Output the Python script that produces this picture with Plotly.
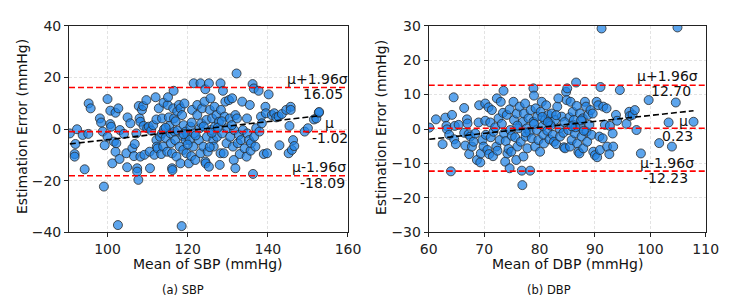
import plotly.graph_objects as go

# ---------------- SBP panel data ----------------
sbp_mean = [90.6, 92, 91.8, 91.8, 92.4, 93.8, 94.3, 95.2, 95.3, 95.8, 98.1, 98.4, 98.8, 99.3, 99.1, 100, 100,
            100.7, 100.7, 100.9, 101.2, 101.6, 102, 102, 102.2, 102.6, 102.7, 103, 103.1, 104.1, 104.7, 105, 104.9,
            105.7, 106.2, 106.6, 106.8, 107.2, 107.4, 107.4, 107.7, 107.8, 108, 108.2, 108.2, 108.6, 108.9, 109,
            109.2, 109.7, 109.9,
            110.3, 110.5, 110.6, 110.9, 111.4, 111.7, 112, 112.2, 112.2, 112.3, 112.5, 112.8, 113.1, 113.4, 113.6,
            113.6, 113.9, 114, 114.1, 114.5, 114.9, 115, 115.1, 115.3, 115.4, 115.7, 115.8, 116.1, 116.1, 116.2,
            116.4, 116.5, 116.6, 116.7, 116.9, 117.2, 117.4, 117.5, 117.8, 118, 118.2, 118.2, 118.5, 118.6, 118.7,
            118.9, 119, 119.2, 119.5, 119.5, 119.7, 119.9,
            120.3, 120.5, 120.7, 120.9, 121.1, 121.4, 121.5, 121.6, 121.9, 122.4, 122.4, 122.8, 123, 123.2, 123.2,
            123.4, 123.6, 123.9, 124.2, 124.4, 124.4, 124.5, 124.7, 124.8, 125, 125.3, 125.3, 125.5, 125.7, 125.8,
            126.1, 126.4, 126.5, 126.7, 126.8, 127.2, 127.3, 127.8, 128, 128.2, 128.2, 128.3, 128.6, 128.8, 129,
            129.2, 129.4, 129.7, 129.9,
            130.3, 130.5, 130.6, 131.1, 131.3, 131.5, 131.6, 131.9, 131.9, 132.2, 132.3, 132.5, 132.8, 133, 133.3,
            133.6, 133.8, 134.2, 134.7, 134.8, 134.9, 135.3, 135.5, 135.7, 135.8, 136.2, 136.3, 136.5, 136.6, 136.9,
            137.1, 137.7, 137.9, 138.3, 138.5, 139, 139.4, 139.5, 139.8, 140.2,
            141, 141.6, 142.1, 142.7, 142.9, 143.5, 144.6, 145.2, 145.4, 145.7, 145.7, 146, 146.3, 146.6, 149.2,
            150, 151.5, 152.1, 152.7, 152.8,
            119.0, 121.0, 122.0, 124.0, 126.0, 127.5, 117.0, 114.5, 120.0, 125.5, 128.5, 131.0]
sbp_error = [-1.7, -5.8, -9.7, -10.7, -0.1, -2.3, -15.6, -1.9, 9.9, 8, 4.1, 2.5, -1, -6.3, -22.3, 11.6, -3,
             7.1, 1.9, 0.9, -13.3, -4.9, 6.3, -8.8, -5.5, -37.2, 8, -11.6, -0.4, -1.9, -9.4, 4.5, -14.8,
             2.2, -7.5, -10.5, -5.8, -1.7, -15.2, -16.5, -19.7, 8.9, 4.1, -10.7, 2.8, 7.4, 8.9, 1.2,
             -10, 11.2, 0.3,
             0.9, -8.8, -15.2, -0.6, 1.5, -10, 12.3, 3.7, -4.3, -6.8, -7.5, 8, -3, -9.7, 4.1,
             -1.7, -6.8, 10.2, -0.1, -3.4, -8.8, 9.3, 12.3, 4.5, 1.2, -1.7, -5.5, -9.4, -15.2, -15.9,
             8, 14.8, 4.1, -1, -4.3, -10.7, 6.8, -0.6, 9.3, -6.8, 8, -13.3, -37.6, 5.4, -2.7,
             -8.1, 1.5, 9.9, -4.3, -1, -9.4, -1.9,
             -13.3, -4.3, 0.9, -10.5, 7.4, -6.8, 17.7, -1.7, -12, 5.4, 9.3, -4.3, 0.3, 17.7, -9.4,
             2.2, 8, -6.8, 10.6, 15.4, -12.6, -13.3, 3.5, -3, -8.8, 17.7, -14.6, 7.4, 11.9, -0.4,
             4.1, -4.3, -6.8, 8.6, 0.9, 5.4, -3, 2.8, -13.9, 17.7, -9.4, 7.4, -1.7, 14.8, -9.4,
             4.8, 10.6, -5.5, 0.3,
             11.2, 4.1, -3, 11.9, -6.8, -12, -0.4, 5.4, -15.2, 21.5, 4.1, -5.5, -2.3, -9.7, -4.3,
             10.6, -0.4, -7.5, -10.7, 4.1, -1.7, -4.3, 9.3, -8.4, -5.5, 17.4, -17.4, 15.7, -3, -6.8,
             0.3, 14.8, -1, 4.8, 2.2, -9.7, 8.6, 6.1, -9.4, 13.4,
             5.4, 6.1, 4.5, 4.8, -6.3, 5.8, 7.4, -9.4, 1.2, 8.6, 7.4, -8.1, -4.3, -6.6, -1,
             0.3, 3.7, 4.1, 6.3, 6.6,
             -2.0, 2.5, -2.5, 1.0, -1.5, 0.5, 3.0, 0.5, -6.0, -7.0, 3.0, 1.5]

# ---------------- DBP panel data ----------------
dbp_mean = [60.1, 61.3, 62.5, 63, 63.2, 63.3, 63.7, 64, 64.2, 64.5, 64.6, 64.7, 64.9, 65.4, 66.4, 66.4, 66.6,
            66.9, 67, 67.2, 67.3, 67.5, 67.8, 68.1, 68.4, 68.7, 69, 69.1, 69.3, 69.4, 69.7, 69.9,
            70.2, 70.2, 70.3, 70.6, 70.8, 70.9, 71.1, 71.2, 71.4, 71.6, 71.7, 72, 72.2, 72.3, 72.4, 72.6, 72.8,
            73, 73.2, 73.4, 73.5, 73.6, 73.8, 73.9, 74.1, 74.2, 74.4, 74.6, 74.6, 74.7, 74.9, 75, 75.3, 75.4,
            75.6, 75.8, 75.9, 76, 76.2, 76.4, 76.6, 76.8, 76.9, 77, 77.1, 77.2, 77.4, 77.5, 77.7, 77.8, 78,
            78.2, 78.3, 78.4, 78.6, 78.9, 78.9, 79, 79.2, 79.3, 79.5, 79.6, 79.8,
            80.1, 80.2, 80.4, 80.6, 80.7, 80.8, 81, 81.2, 81.4, 81.6, 81.8, 81.9, 82.2, 82.4, 82.6, 82.8, 83,
            83.2, 83.4, 83.6, 83.7, 84, 84.3, 84.4, 84.6, 84.8, 84.9, 85, 85.2, 85.4, 85.5, 85.6, 85.8, 86,
            86.1, 86.2, 86.4, 86.6, 86.7, 86.8, 87, 87.2, 87.3, 87.4, 87.6, 87.8, 87.9, 88.2, 88.4, 88.5,
            88.6, 88.8, 89, 89.2, 89.4, 89.6, 89.7,
            90, 90.3, 90.4, 90.6, 90.8, 90.9, 91, 91.2, 91.4, 91.5, 91.8, 92.1, 92.2, 92.6, 92.7, 93.2, 93.3,
            93.8, 94, 94.5, 95.7, 96.2, 96.3, 96.8, 97.2, 97.5, 98.3, 99.7, 101.6, 103.3, 103.9, 104.6, 104.9,
            107.8,
            80.5, 82.0, 83.0, 84.5, 86.5, 87.5, 88.0, 79.0, 81.5, 85.8, 77.5, 76.0]
dbp_error = [0.4, 2.8, -4.4, 3.3, 0.9, -0.1, -1.7, -12.3, 4.1, 9.2, -3, 0.9, -4.4, 1.2, 6.1, -1.1, -4.8,
             2.8, 1.6, -1.5, -7.3, -2.2, -5.1, -3.7, -1.3, -9, 1.9, 6.9, -9.7, -7.1, -3.2, -5.1,
             7.4, 2.4, -1.7, -6.1, 6.3, -7.3, 1.9, -2.4, 5.5, -7.9, -0.8, 0.5, -5.1, 8.9, -6.3, 3.1, -3.2,
             7.9, 1.5, 4.7, 11.1, -1.3, -9.5, -3.5, 4.1, -7.1, -5.8, -11.4, 5.7, -0.3, -6.6, -2, 7.9, 2.6,
             -2.4, -9, 4.5, -5.1, 0.2, 6.5, -3.7, -12.1, -16.3, 2.1, -8, 4.5, 7.4, -2.2, 0.2, -5.6, 3.1,
             -0.8, -12.1, 5.5, -2.7, 11.8, 2.1, 9.7, -5.1, 6, -0.3, 3.6, -3.2,
             -6.6, 5, 7.9, 0.9, -1.7, -4.2, 2.6, 6.9, -0.5, 4.1, -3, 1.6, 4.5, -1.7, -3.7, 2.6, -4.4,
             6.5, 8.9, 0.2, -2.2, 3.6, -1.1, -5.3, -5.6, 10.8, 8.4, 11.8, -0.3, 3.4, -5.1, 7.9, -3.2, 5,
             1.2, 2.6, -1.3, 13.5, 6.7, -4.2, -6.6, -7.1, 4.5, 0.7, -2.2, 3.1, -5.6, 7.9, 6.5, -0.8,
             -3.7, 4.1, 1.2, 5.5, -1.7, 4.5, -6.6,
             -7.6, 7.9, -8.2, 6.9, -2.2, -6.1, 12.2, 29.2, -2.7, 6.5, 1.2, 6, -5.1, -7.3, 0.9, -1.3, -5.1,
             4.1, 2.4, 11.3, 1.5, 5, 3.8, 4.1, 5.5, -0.3, -7.1, 8.4, -4.1, 1.9, -5.1, 7.7, 29.5,
             2.1,
             3.5, 1.0, 4.0, 2.0, 0.5, 2.5, -0.5, 1.5, 2.0, 0.8, -1.0, 1.0]

# ---------------- statistics (from the figure) ----------------
sbp_mu, sbp_upper, sbp_lower = -1.02, 16.05, -18.09
dbp_mu, dbp_upper, dbp_lower = 0.23, 12.70, -12.23
sbp_slope, sbp_intercept = 0.1745, -21.57
dbp_slope, dbp_intercept = 0.1736, -13.42

sbp_xticks = [100, 120, 140, 160]
sbp_yticks = [-40, -20, 0, 20, 40]
dbp_xticks = [60, 70, 80, 90, 100, 110]
dbp_yticks = [-30, -20, -10, 0, 10, 20, 30]

FONT = "DejaVu Sans"
marker = dict(size=9, color="rgba(30,130,230,0.72)", line=dict(color="#2a2a2a", width=0.8))

fig = go.Figure()

def panel(xs, ys, mu, up, lo, slope, icpt, xa, ya, xr):
    fig.add_trace(go.Scatter(x=xs, y=ys, mode="markers", marker=marker, xaxis=xa, yaxis=ya,
                             showlegend=False, hoverinfo="skip"))
    for v in (up, mu, lo):
        fig.add_trace(go.Scatter(x=xr, y=[v, v], mode="lines", xaxis=xa, yaxis=ya, showlegend=False,
                                 line=dict(color="#ff0000", width=1.6, dash="6px,3px"), hoverinfo="skip"))
    x0, x1 = min(xs), max(xs)
    fig.add_trace(go.Scatter(x=[x0, x1], y=[slope * x0 + icpt, slope * x1 + icpt], mode="lines",
                             xaxis=xa, yaxis=ya, showlegend=False,
                             line=dict(color="black", width=1.6, dash="6px,3px"), hoverinfo="skip"))

panel(sbp_mean, sbp_error, sbp_mu, sbp_upper, sbp_lower, sbp_slope, sbp_intercept, "x", "y", [90.4, 160])
panel(dbp_mean, dbp_error, dbp_mu, dbp_upper, dbp_lower, dbp_slope, dbp_intercept, "x2", "y2", [60, 110])

ax_common = dict(showline=True, linecolor="#222", linewidth=1, mirror=True, ticks="outside", ticklen=4,
                 tickcolor="#222", showgrid=True, gridcolor="#dcdcdc", griddash="3px,2px", gridwidth=0.8,
                 zeroline=False, automargin=False, tickfont=dict(family=FONT, size=14, color="#222"))
fig.update_layout(
    width=732, height=299, margin=dict(l=0, r=0, t=0, b=0, autoexpand=False),
    plot_bgcolor="white", paper_bgcolor="white", hovermode=False,
    xaxis=dict(domain=[0.0943, 0.4754], range=[90.4, 160], tickvals=sbp_xticks, anchor="y", **ax_common),
    yaxis=dict(domain=[0.2231, 0.914], range=[-40, 40], tickvals=sbp_yticks, anchor="x", **ax_common),
    xaxis2=dict(domain=[0.5857, 0.9641], range=[60, 110], tickvals=dbp_xticks, anchor="y2", **ax_common),
    yaxis2=dict(domain=[0.2231, 0.914], range=[-30, 30], tickvals=dbp_yticks, anchor="x2", **ax_common),
)

def txt(s, x, y, xref="x", yref="y", size=14, angle=0):
    fig.add_annotation(text=s, x=x, y=y, xref=xref, yref=yref, showarrow=False, textangle=angle,
                       xanchor="center", yanchor="middle", font=dict(family=FONT, size=size, color="#111"))

# limit labels
txt("μ+1.96σ", 152.5, 19.4); txt(f"{sbp_upper:.2f}", 153.7, 13.6)
txt("μ", 155.5, 2.5); txt(f"{sbp_mu:.2f}", 155.6, -3.5)
txt("μ-1.96σ", 152.8, -14.6); txt(f"{sbp_lower:.2f}", 153.7, -20.8)
txt("μ+1.96σ", 103.1, 15.25, "x2", "y2"); txt(f"{dbp_upper:.2f}", 103.8, 10.9, "x2", "y2")
txt("μ", 105.9, 2.4, "x2", "y2"); txt(f"{dbp_mu:.2f}", 104.9, -1.95, "x2", "y2")
txt("μ-1.96σ", 103.0, -9.8, "x2", "y2"); txt(f"{dbp_lower:.2f}", 102.8, -14.25, "x2", "y2")

# axis titles and captions (paper coords)
def ptxt(s, px, py, size=14, angle=0):
    txt(s, px / 732, 1 - py / 299, "paper", "paper", size, angle)

ptxt("Mean of SBP (mmHg)", 208, 264)
ptxt("Mean of DBP (mmHg)", 567, 264)
ptxt("Estimation Error (mmHg)", 22, 127, angle=-90)
ptxt("Estimation Error (mmHg)", 381, 128, angle=-90)
ptxt("(a) SBP", 183, 290, size=11.5)
ptxt("(b) DBP", 549, 290, size=11.5)

fig.write_html("out.html", config={"displayModeBar": False, "staticPlot": True},
               post_script="document.body.style.margin='0';document.body.style.overflow='hidden';")
